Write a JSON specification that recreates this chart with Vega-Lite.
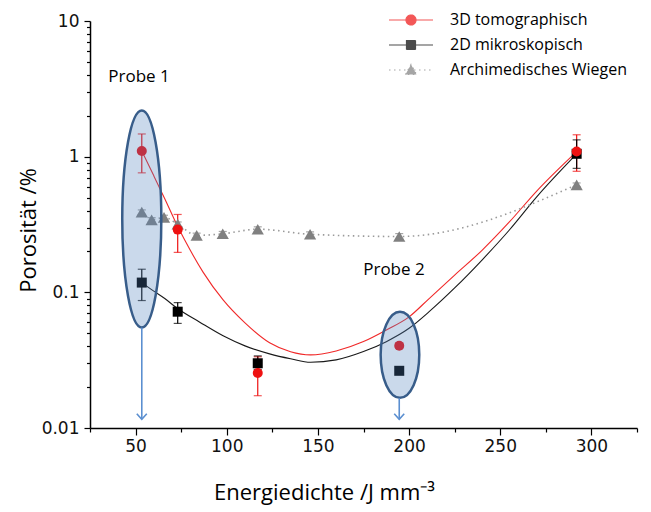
{
  "$schema": "https://vega.github.io/schema/vega-lite/v6.json",
  "width": 547,
  "height": 407,
  "autosize": "none",
  "padding": {"left": 90, "top": 21, "right": 14, "bottom": 84},
  "background": "white",
  "config": {"view": {"stroke": null}, "font": "Open Sans"},
  "datasets": {
    "pts": [
      {"series": "3D tomographisch", "x": 53.4, "y": 1.10, "lo": 0.76, "hi": 1.47},
      {"series": "3D tomographisch", "x": 73.1, "y": 0.29, "lo": 0.197, "hi": 0.375},
      {"series": "3D tomographisch", "x": 117.0, "y": 0.0254, "lo": 0.0173, "hi": 0.0335},
      {"series": "3D tomographisch", "x": 194.6, "y": 0.0404, "lo": 0.0386, "hi": 0.0423},
      {"series": "3D tomographisch", "x": 291.9, "y": 1.09, "lo": 0.78, "hi": 1.45},
      {"series": "2D mikroskopisch", "x": 53.4, "y": 0.118, "lo": 0.087, "hi": 0.148},
      {"series": "2D mikroskopisch", "x": 73.1, "y": 0.072, "lo": 0.059, "hi": 0.084},
      {"series": "2D mikroskopisch", "x": 117.0, "y": 0.030, "lo": 0.027, "hi": 0.034},
      {"series": "2D mikroskopisch", "x": 194.6, "y": 0.0264, "lo": null, "hi": null},
      {"series": "2D mikroskopisch", "x": 291.9, "y": 1.05, "lo": 0.82, "hi": 1.33},
      {"series": "Archimedisches Wiegen", "x": 53.4, "y": 0.39, "lo": 0.375, "hi": 0.405},
      {"series": "Archimedisches Wiegen", "x": 58.8, "y": 0.342, "lo": 0.33, "hi": 0.355},
      {"series": "Archimedisches Wiegen", "x": 65.6, "y": 0.357, "lo": 0.344, "hi": 0.37},
      {"series": "Archimedisches Wiegen", "x": 73.1, "y": 0.318, "lo": 0.305, "hi": 0.33},
      {"series": "Archimedisches Wiegen", "x": 83.5, "y": 0.263, "lo": 0.253, "hi": 0.273},
      {"series": "Archimedisches Wiegen", "x": 97.8, "y": 0.27, "lo": 0.259, "hi": 0.281},
      {"series": "Archimedisches Wiegen", "x": 117.0, "y": 0.292, "lo": 0.28, "hi": 0.304},
      {"series": "Archimedisches Wiegen", "x": 145.7, "y": 0.268, "lo": 0.257, "hi": 0.279},
      {"series": "Archimedisches Wiegen", "x": 194.6, "y": 0.258, "lo": 0.245, "hi": 0.271},
      {"series": "Archimedisches Wiegen", "x": 291.9, "y": 0.62, "lo": 0.6, "hi": 0.64}
    ],
    "curves": [
      {"series": "3D tomographisch", "x": 53.4, "y": 1.10},
      {"series": "3D tomographisch", "x": 60, "y": 0.722},
      {"series": "3D tomographisch", "x": 66, "y": 0.49},
      {"series": "3D tomographisch", "x": 73, "y": 0.308},
      {"series": "3D tomographisch", "x": 80, "y": 0.204},
      {"series": "3D tomographisch", "x": 87, "y": 0.141},
      {"series": "3D tomographisch", "x": 98, "y": 0.088},
      {"series": "3D tomographisch", "x": 110, "y": 0.0596},
      {"series": "3D tomographisch", "x": 123.5, "y": 0.0425},
      {"series": "3D tomographisch", "x": 135, "y": 0.0365},
      {"series": "3D tomographisch", "x": 146, "y": 0.0346},
      {"series": "3D tomographisch", "x": 160, "y": 0.037},
      {"series": "3D tomographisch", "x": 175, "y": 0.0434},
      {"series": "3D tomographisch", "x": 187.5, "y": 0.0528},
      {"series": "3D tomographisch", "x": 200, "y": 0.066},
      {"series": "3D tomographisch", "x": 211, "y": 0.09},
      {"series": "3D tomographisch", "x": 225, "y": 0.134},
      {"series": "3D tomographisch", "x": 240, "y": 0.204},
      {"series": "3D tomographisch", "x": 255, "y": 0.33},
      {"series": "3D tomographisch", "x": 270, "y": 0.558},
      {"series": "3D tomographisch", "x": 291.9, "y": 1.09},
      {"series": "2D mikroskopisch", "x": 53.4, "y": 0.118},
      {"series": "2D mikroskopisch", "x": 60, "y": 0.102},
      {"series": "2D mikroskopisch", "x": 66, "y": 0.09},
      {"series": "2D mikroskopisch", "x": 73, "y": 0.076},
      {"series": "2D mikroskopisch", "x": 85, "y": 0.0605},
      {"series": "2D mikroskopisch", "x": 98, "y": 0.0478},
      {"series": "2D mikroskopisch", "x": 110, "y": 0.0403},
      {"series": "2D mikroskopisch", "x": 123.5, "y": 0.0352},
      {"series": "2D mikroskopisch", "x": 135, "y": 0.0324},
      {"series": "2D mikroskopisch", "x": 146, "y": 0.0305},
      {"series": "2D mikroskopisch", "x": 160, "y": 0.0318},
      {"series": "2D mikroskopisch", "x": 175, "y": 0.0366},
      {"series": "2D mikroskopisch", "x": 187.5, "y": 0.0433},
      {"series": "2D mikroskopisch", "x": 200, "y": 0.0543},
      {"series": "2D mikroskopisch", "x": 211, "y": 0.072},
      {"series": "2D mikroskopisch", "x": 225, "y": 0.1077},
      {"series": "2D mikroskopisch", "x": 240, "y": 0.173},
      {"series": "2D mikroskopisch", "x": 255, "y": 0.288},
      {"series": "2D mikroskopisch", "x": 270, "y": 0.505},
      {"series": "2D mikroskopisch", "x": 291.9, "y": 1.047}
    ],
    "ell": [
      {"probe": "Probe 1", "x": 53.4, "y": 0.3475},
      {"probe": "Probe 2", "x": 195.0, "y": 0.0346}
    ],
    "arrows": [
      {"probe": "Probe 1", "x": 53.4, "y": 0.055, "y2": 0.0116},
      {"probe": "Probe 2", "x": 194.6, "y": 0.0166, "y2": 0.0116}
    ],
    "labels": [
      {"text": "Probe 1", "x": 51.9, "y": 3.86},
      {"text": "Probe 2", "x": 191.7, "y": 0.146}
    ]
  },
  "encoding": {
    "x": {
      "field": "x", "type": "quantitative",
      "scale": {"domain": [25, 325], "nice": false, "zero": false},
      "axis": {
        "values": [25, 50, 75, 100, 125, 150, 175, 200, 225, 250, 275, 300, 325],
        "labelExpr": "datum.value % 50 == 0 ? format(datum.value, 'd') : ''",
        "tickSize": {"condition": {"test": "datum.value % 50 == 0", "value": 7}, "value": 4},
        "grid": false,
        "domainColor": "black", "domainWidth": 1.5,
        "tickColor": "black", "tickWidth": 1.2,
        "labelFont": "DejaVu Sans", "labelFontSize": 17, "labelColor": "#111", "labelPadding": 3,
        "labelOverlap": false,
        "title": "Energiedichte /J mm⁻³",
        "titleFont": "Open Sans", "titleFontSize": 22, "titleFontWeight": "normal", "titleColor": "black",
        "titleX": 234, "titleY": 64, "titleAlign": "center", "titleBaseline": "middle", "titleAnchor": null
      }
    },
    "y": {
      "field": "y", "type": "quantitative",
      "scale": {"type": "log", "domain": [0.01, 10], "nice": false},
      "axis": {
        "values": [0.01, 0.02, 0.03, 0.04, 0.05, 0.06, 0.07, 0.08, 0.09, 0.1, 0.2, 0.3, 0.4, 0.5, 0.6, 0.7, 0.8, 0.9, 1, 2, 3, 4, 5, 6, 7, 8, 9, 10],
        "labelExpr": "(datum.value == 0.01 || datum.value == 0.1 || datum.value == 1 || datum.value == 10) ? format(datum.value, '~g') : ''",
        "tickSize": {"condition": {"test": "datum.value == 0.01 || datum.value == 0.1 || datum.value == 1 || datum.value == 10", "value": 6}, "value": 3.5},
        "grid": false,
        "domainColor": "black", "domainWidth": 1.5,
        "tickColor": "black", "tickWidth": 1.2,
        "labelFont": "DejaVu Sans", "labelFontSize": 17, "labelColor": "#111", "labelPadding": 5,
        "labelOverlap": false,
        "title": "Porosität /%",
        "titleFont": "Open Sans", "titleFontSize": 22, "titleFontWeight": "normal", "titleColor": "black",
        "titleX": -62, "titleY": 209, "titleAlign": "center", "titleBaseline": "middle", "titleAngle": -90, "titleAnchor": null
      }
    }
  },
  "layer": [
    {
      "data": {"name": "curves"},
      "mark": {"type": "line", "strokeWidth": 1.1, "interpolate": "monotone", "opacity": 0.9},
      "encoding": {
        "color": {
          "field": "series", "type": "nominal",
          "scale": {"domain": ["3D tomographisch", "2D mikroskopisch", "Archimedisches Wiegen"], "range": ["#ee1111", "#000000", "#808080"]},
          "legend": {
            "title": null,
            "orient": "none",
            "legendX": 313,
            "legendY": -9,
            "padding": 0,
            "symbolSize": 100,
            "symbolStrokeWidth": 1.2,
            "symbolOpacity": 1,
            "labelOffset": 31,
            "rowPadding": 9,
            "labelFont": "Open Sans",
            "labelFontSize": 16,
            "labelColor": "black",
            "labelLimit": 300
          }
        },
        "detail": {"field": "series"}
      }
    },
    {
      "data": {"name": "pts"},
      "transform": [{"filter": "datum.series == 'Archimedisches Wiegen'"}],
      "mark": {"type": "line", "color": "#9a9a9a", "strokeWidth": 1.6, "interpolate": "monotone"},
      "encoding": {
        "strokeDash": {
          "field": "series", "type": "nominal",
          "scale": {"domain": ["3D tomographisch", "2D mikroskopisch", "Archimedisches Wiegen"], "range": [[1, 0], [1, 0], [1.5, 3.5]]}
        }
      }
    },
    {
      "data": {"name": "pts"},
      "transform": [{"filter": "datum.lo != null"}],
      "mark": {"type": "rule", "strokeWidth": 1.2},
      "encoding": {
        "y": {"field": "lo", "type": "quantitative"},
        "y2": {"field": "hi"},
        "color": {"field": "series", "type": "nominal"}
      }
    },
    {
      "data": {"name": "pts"},
      "transform": [{"filter": "datum.lo != null"}],
      "mark": {"type": "tick", "orient": "horizontal", "size": 8, "thickness": 1.2},
      "encoding": {
        "y": {"field": "lo", "type": "quantitative"},
        "color": {"field": "series", "type": "nominal"}
      }
    },
    {
      "data": {"name": "pts"},
      "transform": [{"filter": "datum.lo != null"}],
      "mark": {"type": "tick", "orient": "horizontal", "size": 8, "thickness": 1.2},
      "encoding": {
        "y": {"field": "hi", "type": "quantitative"},
        "color": {"field": "series", "type": "nominal"}
      }
    },
    {
      "data": {"name": "pts"},
      "mark": {"type": "point", "filled": true, "size": 0},
      "encoding": {
        "color": {"field": "series", "type": "nominal"},
        "shape": {
          "field": "series", "type": "nominal",
          "scale": {"domain": ["3D tomographisch", "2D mikroskopisch", "Archimedisches Wiegen"], "range": [
            "M -4.4 0 L 4.4 0 M -1 0 A 1 1 0 1 1 1 0 A 1 1 0 1 1 -1 0 Z",
            "M -4.4 0 L 4.4 0 M -0.9 -0.9 L 0.9 -0.9 L 0.9 0.9 L -0.9 0.9 Z",
            "M -4.4 0 L 4.4 0 M -1.1 0.9 L 0 -1.1 L 1.1 0.9 Z"
          ]}
        }
      }
    },
    {
      "data": {"name": "pts"},
      "transform": [{"filter": "datum.series == 'Archimedisches Wiegen'"}],
      "mark": {"type": "point", "shape": "triangle-up", "filled": true, "opacity": 1, "size": 150},
      "encoding": {
        "color": {"field": "series", "type": "nominal"}
      }
    },
    {
      "data": {"name": "pts"},
      "transform": [{"filter": "datum.series == '2D mikroskopisch'"}],
      "mark": {"type": "point", "shape": "square", "filled": true, "opacity": 1, "size": 100},
      "encoding": {
        "color": {"field": "series", "type": "nominal"}
      }
    },
    {
      "data": {"name": "pts"},
      "transform": [{"filter": "datum.series == '3D tomographisch'"}],
      "mark": {"type": "point", "shape": "circle", "filled": true, "opacity": 1, "size": 100},
      "encoding": {
        "color": {"field": "series", "type": "nominal"}
      }
    },
    {
      "data": {"name": "ell"},
      "transform": [{"filter": "datum.probe == 'Probe 1'"}],
      "mark": {"type": "point", "shape": "M 0 -1 A 0.18 1 0 1 1 0 1 A 0.18 1 0 1 1 0 -1 Z", "size": 47089, "filled": true, "fill": "#4f81bd", "fillOpacity": 0.3, "stroke": "#385d8a", "strokeWidth": 2.5, "strokeOpacity": 1, "opacity": 1},
      "encoding": {}
    },
    {
      "data": {"name": "ell"},
      "transform": [{"filter": "datum.probe == 'Probe 2'"}],
      "mark": {"type": "point", "shape": "M 0 -1 A 0.449 1 0 1 1 0 1 A 0.449 1 0 1 1 0 -1 Z", "size": 7396, "filled": true, "fill": "#4f81bd", "fillOpacity": 0.3, "stroke": "#385d8a", "strokeWidth": 2.5, "strokeOpacity": 1, "opacity": 1},
      "encoding": {}
    },
    {
      "data": {"name": "arrows"},
      "mark": {"type": "rule", "color": "#5b8fd0", "strokeWidth": 1.6},
      "encoding": {
        "y2": {"field": "y2"}
      }
    },
    {
      "data": {"name": "arrows"},
      "mark": {"type": "point", "shape": "M -1 -1.1 L 0 0 L 1 -1.1", "size": 100, "filled": false, "stroke": "#5b8fd0", "strokeWidth": 1.6, "opacity": 1},
      "encoding": {
        "y": {"field": "y2", "type": "quantitative"}
      }
    },
    {
      "data": {"name": "labels"},
      "mark": {"type": "text", "font": "Open Sans", "fontSize": 17, "color": "black", "align": "center", "baseline": "middle"},
      "encoding": {
        "text": {"field": "text"}
      }
    }
  ]
}
